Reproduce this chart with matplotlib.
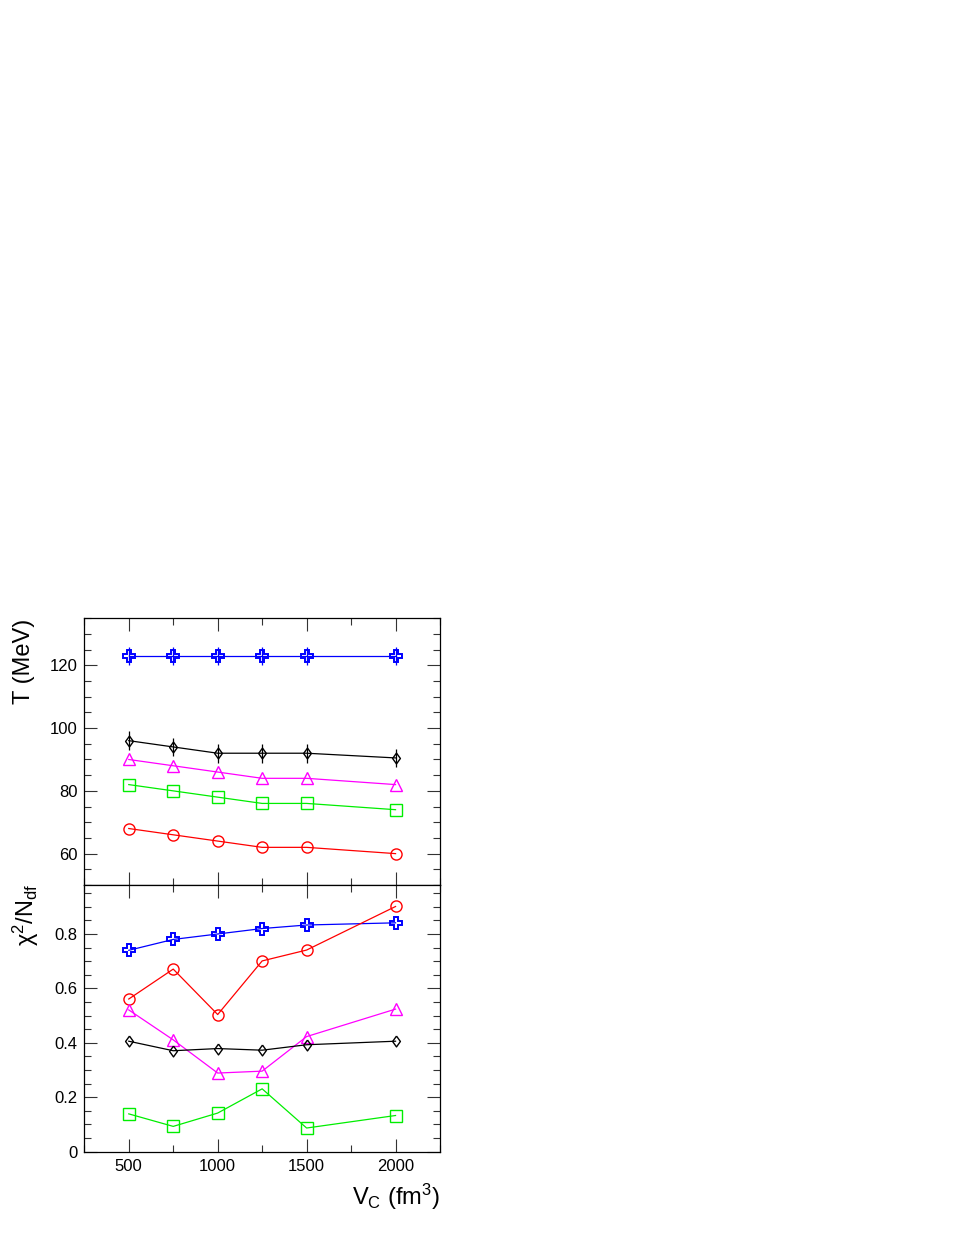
import matplotlib
matplotlib.use("Agg")
import matplotlib.pyplot as plt
from matplotlib.ticker import MultipleLocator, FixedLocator

plt.rcParams['font.family'] = ['Liberation Sans', 'DejaVu Sans']
plt.rcParams['mathtext.fontset'] = 'custom'
plt.rcParams['mathtext.rm'] = 'Liberation Sans'
plt.rcParams['mathtext.it'] = 'Liberation Sans'
plt.rcParams['mathtext.bf'] = 'Liberation Sans:bold'
plt.rcParams['mathtext.default'] = 'rm'

# ---- data ----
vc = [500, 750, 1000, 1250, 1500, 2000]

T_cross = [123, 123, 123, 123, 123, 123]
T_cross_err = [3, 3, 3, 3, 3, 3]
T_diamond = [96, 94, 92, 92, 92, 90.5]
T_diamond_err = [3, 3, 3, 3, 3, 3]
T_triangle = [90, 88, 86, 84, 84, 82]
T_square = [82, 80, 78, 76, 76, 74]
T_circle = [68, 66, 64, 62, 62, 60]

chi_cross = [0.740, 0.780, 0.800, 0.820, 0.833, 0.841]
chi_circle = [0.561, 0.671, 0.504, 0.701, 0.741, 0.901]
chi_triangle = [0.521, 0.411, 0.289, 0.296, 0.423, 0.524]
chi_diamond = [0.406, 0.371, 0.379, 0.373, 0.393, 0.406]
chi_square = [0.139, 0.093, 0.142, 0.231, 0.087, 0.133]

x_ticks = [500, 1000, 1500, 2000]
x_tick_labels = ['500', '1000', '1500', '2000']

W, H = 959, 1241
fig = plt.figure(figsize=(W / 100, H / 100), dpi=100)

left = 84.3 / W
width = (440.0 - 84.3) / W
ax1 = fig.add_axes([left, (H - 885.0) / H, width, (885.0 - 618.3) / H])
ax2 = fig.add_axes([left, (H - 1151.7) / H, width, (1151.7 - 885.0) / H])

diamond_marker = [(0, 1), (0.72, 0), (0, -1), (-0.72, 0), (0, 1)]

lw = 0.9
styles = {
    'cross': dict(color='#0000ff', marker='P', ms=9, mew=1.4),
    'diamond': dict(color='#000000', marker=diamond_marker, ms=7.8, mew=1.0),
    'triangle': dict(color='#ff00ff', marker='^', ms=8.5, mew=1.0),
    'square': dict(color='#00ee00', marker='s', ms=8, mew=1.0),
    'circle': dict(color='#ff0000', marker='o', ms=8, mew=1.0),
}

def draw(ax, y, key, err=None):
    st = styles[key]
    c = st['color']
    if err is not None:
        ax.errorbar(vc, y, yerr=err, fmt='none', ecolor=c, elinewidth=lw, capsize=0, zorder=2)
    ax.plot(vc, y, '-', color=c, lw=lw, marker=st['marker'], ms=st['ms'],
            mfc='none', mec=c, mew=st['mew'], zorder=3)

draw(ax1, T_cross, 'cross', T_cross_err)
draw(ax1, T_diamond, 'diamond', T_diamond_err)
draw(ax1, T_triangle, 'triangle')
draw(ax1, T_square, 'square')
draw(ax1, T_circle, 'circle')

draw(ax2, chi_cross, 'cross')
draw(ax2, chi_circle, 'circle')
draw(ax2, chi_triangle, 'triangle')
draw(ax2, chi_diamond, 'diamond')
draw(ax2, chi_square, 'square')

ax1.set_xlim(250, 2250)
ax2.set_xlim(250, 2250)
ax1.set_ylim(50, 135)
ax2.set_ylim(0, 0.98)

for ax in (ax1, ax2):
    ax.xaxis.set_major_locator(FixedLocator(x_ticks))
    ax.xaxis.set_minor_locator(MultipleLocator(250))
    ax.tick_params(which='both', direction='in', top=True, right=True,
                   width=0.8, color='#333333', labelsize=12)
    ax.tick_params(which='major', length=9.5)
    ax.tick_params(which='minor', length=5)
    ax.tick_params(axis='y', pad=5)
    ax.tick_params(axis='x', pad=5)
    for sp in ax.spines.values():
        sp.set_linewidth(0.9)
        sp.set_color('black')

ax1.yaxis.set_major_locator(MultipleLocator(20))
ax1.yaxis.set_minor_locator(MultipleLocator(5))
ax1.tick_params(axis='x', labelbottom=False)

ax2.yaxis.set_major_locator(MultipleLocator(0.2))
ax2.yaxis.set_minor_locator(MultipleLocator(0.05))
ax2.set_xticks(x_ticks)
ax2.set_xticklabels(x_tick_labels)
ax2.yaxis.set_major_formatter(matplotlib.ticker.FuncFormatter(
    lambda v, p: '0' if abs(v) < 1e-9 else ('%.1f' % v)))

fig.text(24 / W, (H - 618.3) / H, 'T (MeV)', rotation=90, ha='center', va='top', fontsize=17)
fig.text(26 / W, (H - 884.0) / H, r'$\chi^{2}$/N$_{df}$', rotation=90, ha='center', va='top', fontsize=17)
fig.text(440.0 / W, (H - 1197.0) / H, r'V$_{C}$ (fm$^{3}$)', ha='right', va='center', fontsize=17)

fig.savefig('out.png', dpi=100)
